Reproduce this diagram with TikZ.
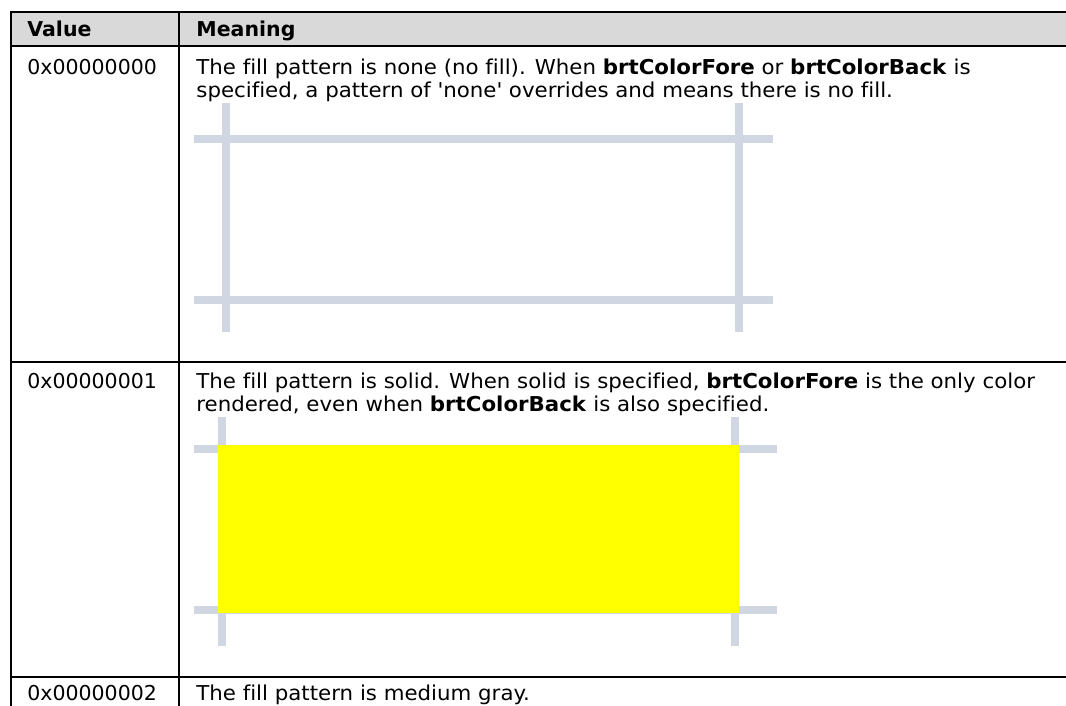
\documentclass[tikz,border=0pt]{standalone}
\usepackage{fontspec}
\setmainfont[Ligatures={NoCommon}]{DejaVu Sans}
\newfontfamily\meanfont[FakeStretch=1.04,Ligatures={NoCommon}]{DejaVu Sans}
\definecolor{headgray}{RGB}{217,217,217}
\definecolor{gridc}{RGB}{208,215,227}
\definecolor{solidfill}{RGB}{255,255,0}
\begin{document}
\begin{tikzpicture}[x=0.5pt,y=-0.5pt,
  txt/.style={anchor=base west,inner sep=0pt,font=\fontsize{10.25pt}{12pt}\selectfont},
  mtxt/.style={anchor=base west,inner sep=0pt,font=\meanfont\fontsize{10.25pt}{12pt}\selectfont},
  border/.style={line width=1pt,draw=black},
  gridline/.style={draw=gridc,line width=4pt}]
\useasboundingbox (0,0) rectangle (1066,706);
% header
\fill[headgray] (11,12) rectangle (1066,46);
% table rules
\draw[border] (1066,12) -- (11,12) -- (11,706);
\draw[border] (179,12) -- (179,706);
\draw[border] (11,46) -- (1066,46);
\draw[border] (11,362) -- (1066,362);
\draw[border] (11,677) -- (1066,677);
% header text
\node[txt] (hval) at (27,37) {\textbf{Value}};
\node[txt] (hmean) at (196,37) {\textbf{Meaning}};
% row 1
\node[txt] (v0) at (27,75) {0x00000000};
\node[mtxt] (m0a) at (196,75) {The fill pattern is none (no fill). When \textbf{brtColorFore} or \textbf{brtColorBack} is};
\node[mtxt] (m0b) at (196,98) {specified, a pattern of \textquotesingle none\textquotesingle\ overrides and means there is no fill.};
% image 1: no fill
\draw[gridline] (226,103) -- (226,332);
\draw[gridline] (739,103) -- (739,332);
\draw[gridline] (194,139) -- (773,139);
\draw[gridline] (194,300) -- (773,300);
% row 2
\node[txt] (v1) at (27,388) {0x00000001};
\node[mtxt] (m1a) at (196,388) {The fill pattern is solid. When solid is specified, \textbf{brtColorFore} is the only color};
\node[mtxt] (m1b) at (196,411) {rendered, even when \textbf{brtColorBack} is also specified.};
% image 2: solid
\draw[gridline] (222,417) -- (222,646);
\draw[gridline] (735,417) -- (735,646);
\draw[gridline] (194,449) -- (777,449);
\draw[gridline] (194,609.5) -- (777,609.5);
\fill[solidfill] (218,445) rectangle (739,613);
% row 3
\node[txt] (v2) at (27,700) {0x00000002};
\node[mtxt] (m2a) at (196,700) {The fill pattern is medium gray.};
\end{tikzpicture}
\end{document}
